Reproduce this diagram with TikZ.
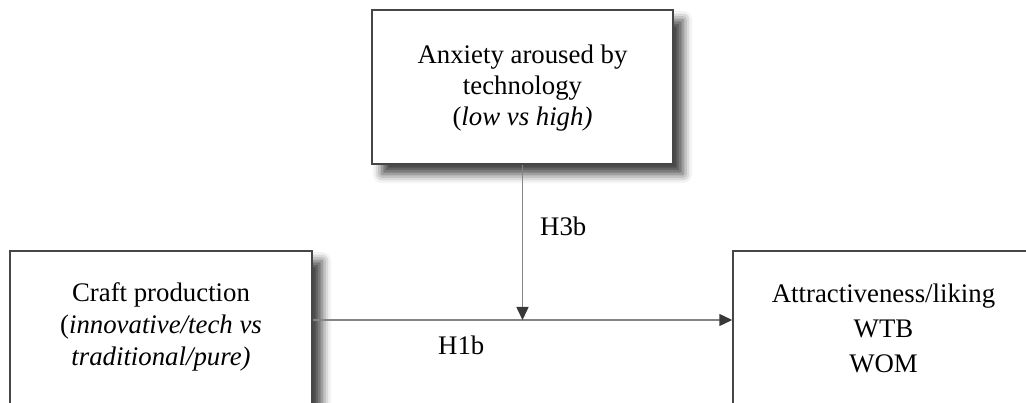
\documentclass[tikz,border=0pt]{standalone}
\usepackage{fontspec}
\setmainfont{Liberation Serif}
\usetikzlibrary{arrows.meta,shadows.blur}
\definecolor{boxline}{HTML}{464646}
\definecolor{linkline}{HTML}{858585}
\definecolor{tipfill}{HTML}{383838}
\begin{document}
\begin{tikzpicture}[x=1pt,y=-1pt,
  construct/.style={draw=boxline, line width=1.5pt, fill=white, rectangle, inner sep=0pt,
    blur shadow={shadow xshift=10pt, shadow yshift=-10pt, shadow blur radius=9pt, shadow opacity=75}},
  boxtext/.style={align=center, inner sep=0pt, font=\fontsize{26.8}{31}\selectfont},
  link/.style={draw=linkline, line width=1.5pt, -{Triangle[length=13pt,width=12pt,color=tipfill]}},
  hyp/.style={anchor=base west, inner sep=0pt, font=\fontsize{26.8}{31}\selectfont}]
\useasboundingbox (0,0) rectangle (1026,403);
\clip (0,0) rectangle (1026,403);

% constructs
\node[construct, minimum width=301pt, minimum height=154pt] (anx) at (522.5,87) {};
\node[construct, minimum width=302pt, minimum height=180pt] (craft) at (161,341) {};
\node[construct, minimum width=302pt, minimum height=180pt] (attr) at (884,341) {};

\node[boxtext] (anxtext) at (522.5,88) {Anxiety aroused by\\technology\\(\textit{low vs high)}};
\node[boxtext, font=\fontsize{26.8}{31.7}\selectfont] (crafttext) at (161,327)
  {Craft production\\(\textit{innovative/tech vs}\\\textit{traditional/pure)}};
\node[boxtext, font=\fontsize{26.8}{35}\selectfont] (attrtext) at (883.5,328)
  {Attractiveness/liking\\WTB\\WOM};

% paths
\coordinate (j) at (522.5,320);
\draw[link] (craft.east |- j) -- (attr.west |- j);
\draw[link] (anx.south) -- (j);

% hypotheses
\node[hyp] (h3b) at (540,236) {H3b};
\node[hyp] (h1b) at (438,355) {H1b};
\end{tikzpicture}
\end{document}
